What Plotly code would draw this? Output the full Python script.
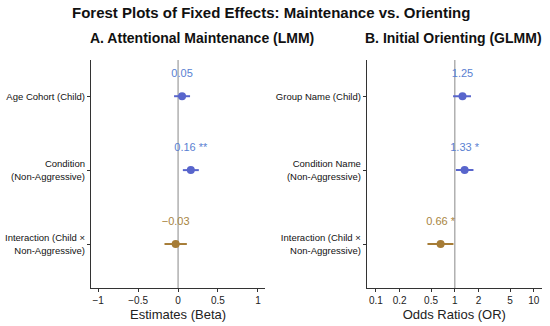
import plotly.graph_objects as go

# Panel A data (LMM)
terms_a = ["Age Cohort (Child)", "Condition<br>(Non-Aggressive)", "Interaction (Child ×<br>Non-Aggressive)"]
est_a = [0.05, 0.16, -0.03]
lo_a = [-0.05, 0.06, -0.17]
hi_a = [0.15, 0.26, 0.11]
lab_a = ["0.05", "0.16 **", "−0.03"]

# Panel B data (GLMM)
terms_b = ["Group Name (Child)", "Condition Name<br>(Non-Aggressive)", "Interaction (Child ×<br>Non-Aggressive)"]
est_b = [1.25, 1.33, 0.66]
lo_b = [0.95, 1.03, 0.45]
hi_b = [1.60, 1.72, 0.96]
lab_b = ["1.25", "1.33 *", "0.66 *"]

kinds = ["main", "main", "inter"]
pt_col = {"main": "#5865cc", "inter": "#a67c36"}
txt_col = {"main": "#5a7fd2", "inter": "#a8843f"}

xticks_a = [-1, -0.5, 0, 0.5, 1]
xticklab_a = ["−1", "−0.5", "0", "0.5", "1"]
xticks_b = [0.1, 0.2, 0.5, 1, 2, 5, 10]
xticklab_b = ["0.1", "0.2", "0.5", "1", "2", "5", "10"]

FONT = "Liberation Sans, Arial, sans-serif"
fig = go.Figure()
ypos = [0, 1, 2]

def add_panel(est, lo, hi, labs, xa, ya):
    for i in range(3):
        k = kinds[i]
        fig.add_trace(go.Scatter(
            x=[est[i]], y=[ypos[i]], mode="markers",
            marker=dict(color=pt_col[k], size=8),
            error_x=dict(type="data", symmetric=False,
                         array=[hi[i] - est[i]], arrayminus=[est[i] - lo[i]],
                         color=pt_col[k], thickness=2, width=0),
            xaxis=xa, yaxis=ya, showlegend=False, hoverinfo="skip"))
        fig.add_trace(go.Scatter(
            x=[est[i]], y=[ypos[i] - 0.3], mode="text", text=[labs[i]],
            textfont=dict(color=txt_col[k], size=11, family=FONT),
            textposition="middle center",
            xaxis=xa, yaxis=ya, showlegend=False, hoverinfo="skip"))

add_panel(est_a, lo_a, hi_a, lab_a, "x", "y")
add_panel(est_b, lo_b, hi_b, lab_b, "x2", "y2")

axis_common = dict(showgrid=False, zeroline=False, showline=True, linecolor="#333333",
                   linewidth=1.2, ticks="outside", ticklen=3, tickcolor="#333333")
xfont = dict(size=10, color="#222222", family=FONT)
yfont = dict(size=9.5, color="#111111", family=FONT)

H = 326.0
fig.update_layout(
    width=550, height=326,
    margin=dict(l=0, r=0, t=0, b=0),
    plot_bgcolor="white", paper_bgcolor="white",
    font=dict(family=FONT, color="#222222"),
    xaxis=dict(domain=[0.1655, 0.482], range=[-1.09, 1.09], tickvals=xticks_a,
               ticktext=xticklab_a, anchor="y", tickfont=xfont,
               title=dict(text="Estimates (Beta)", font=dict(size=13), standoff=4), **axis_common),
    yaxis=dict(domain=[(H - 288) / H, (H - 60) / H], range=[2.595, -0.49], tickvals=ypos,
               ticktext=terms_a, anchor="x", tickfont=yfont, **axis_common),
    xaxis2=dict(domain=[0.667, 0.985], type="log", range=[-1.114, 1.10], tickvals=xticks_b,
                ticktext=xticklab_b, anchor="y2", tickfont=xfont,
                title=dict(text="Odds Ratios (OR)", font=dict(size=13), standoff=4), **axis_common),
    yaxis2=dict(domain=[(H - 288) / H, (H - 60) / H], range=[2.595, -0.49], tickvals=ypos,
                ticktext=terms_b, anchor="x2", tickfont=yfont, **axis_common),
    shapes=[
        dict(type="line", xref="x", yref="y domain", x0=0, x1=0, y0=0, y1=1,
             line=dict(color="#888888", width=1), layer="below"),
        dict(type="line", xref="x2", yref="y2 domain", x0=1, x1=1, y0=0, y1=1,
             line=dict(color="#888888", width=1), layer="below"),
    ],
    annotations=[
        dict(text="<b>Forest Plots of Fixed Effects: Maintenance vs. Orienting</b>",
             x=0.493, y=(H - 13) / H, xref="paper", yref="paper", showarrow=False,
             xanchor="center", yanchor="middle", font=dict(size=15, color="#111111")),
        dict(text="<b>A. Attentional Maintenance (LMM)</b>", x=0.367, y=(H - 38) / H,
             xref="paper", yref="paper", showarrow=False, xanchor="center", yanchor="middle",
             font=dict(size=14, color="#111111")),
        dict(text="<b>B. Initial Orienting (GLMM)</b>", x=0.824, y=(H - 38) / H,
             xref="paper", yref="paper", showarrow=False, xanchor="center", yanchor="middle",
             font=dict(size=14, color="#111111")),
    ],
)

fig.write_html("out.html", config={"displayModeBar": False},
               post_script="document.body.style.margin='0';document.body.style.padding='0';")
